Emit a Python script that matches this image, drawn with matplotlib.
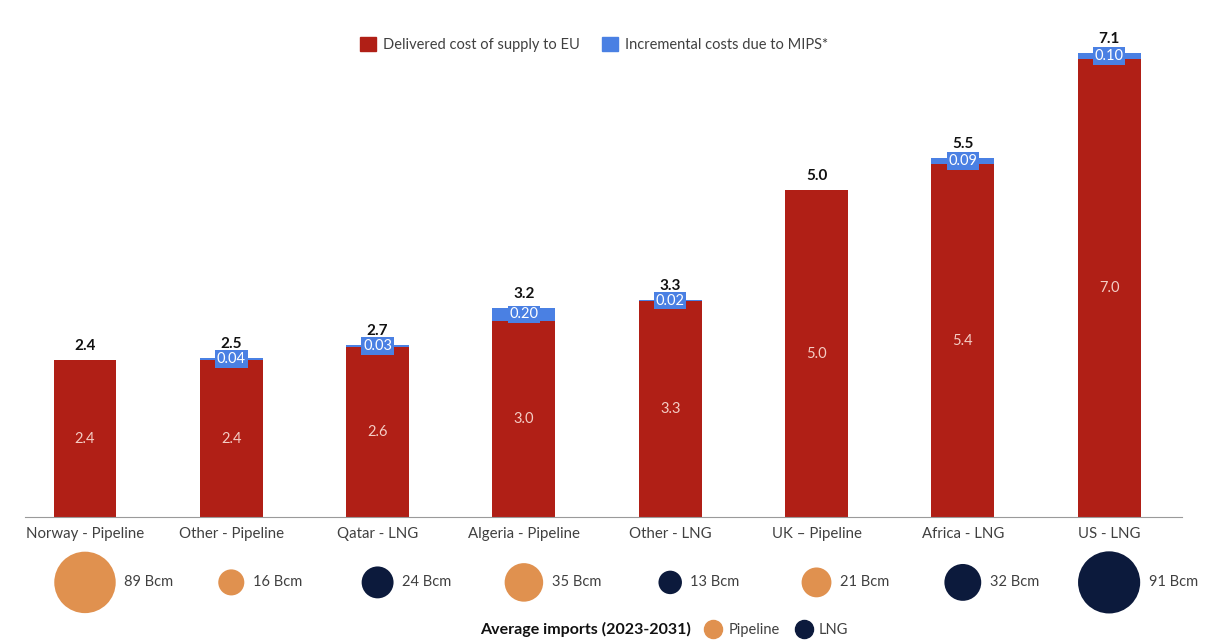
import numpy as np
import matplotlib
matplotlib.use("Agg")
import matplotlib.pyplot as plt
from matplotlib.patches import Patch
from matplotlib.lines import Line2D

plt.rcParams['font.family'] = ['Lato', 'DejaVu Sans']

# data
routes = ["Norway - Pipeline", "Other - Pipeline", "Qatar - LNG", "Algeria - Pipeline",
          "Other - LNG", "UK \u2013 Pipeline", "Africa - LNG", "US - LNG"]
delivered = [2.4, 2.4, 2.6, 3.0, 3.3, 5.0, 5.4, 7.0]
mips = [0.0, 0.04, 0.03, 0.20, 0.02, 0.0, 0.09, 0.10]
totals = [2.4, 2.5, 2.7, 3.2, 3.3, 5.0, 5.5, 7.1]
imports_bcm = [89, 16, 24, 35, 13, 21, 32, 91]
route_type = ["Pipeline", "Pipeline", "LNG", "Pipeline", "LNG", "Pipeline", "LNG", "LNG"]

red = "#b01f16"
blue = "#4a80e3"
orange = "#e0914f"
navy = "#0c1a3c"
type_col = {"Pipeline": orange, "LNG": navy}

fig = plt.figure(figsize=(12.08, 6.4), dpi=100)
ax = fig.add_axes([0.0207, 0.192, 0.958, 0.745])
x = np.arange(len(routes))
w = 0.43

ax.bar(x, delivered, w, color=red, zorder=2)
ax.bar(x, mips, w, bottom=delivered, color=blue, zorder=2)

for i in range(len(routes)):
    ax.text(x[i], delivered[i] / 2, f"{delivered[i]:.1f}", ha="center", va="center",
            color="#f4cdc5", fontsize=10.5)
    top = delivered[i] + mips[i]
    if mips[i] > 0:
        ax.text(x[i], delivered[i] + mips[i] / 2, f"{mips[i]:.2f}", ha="center", va="center",
                color="white", fontsize=10.5, zorder=3,
                bbox=dict(boxstyle="square,pad=0.12", fc=blue, ec="none"))
    ax.annotate(f"{totals[i]:.1f}", (x[i], top), xytext=(0, 5), textcoords="offset points",
                ha="center", va="bottom", fontsize=11, fontweight="bold", color="#111111", zorder=4)

ax.set_xlim(-0.41, 7.5)
ax.set_ylim(0, 7.29)
ax.set_yticks([])
ax.set_xticks(x)
ax.set_xticklabels(routes, fontsize=10.8, color="#404040")
ax.tick_params(axis="x", length=0, pad=7)
for s in ["top", "right", "left"]:
    ax.spines[s].set_visible(False)
ax.spines["bottom"].set_color("#9a9a9a")

fig.legend(handles=[Patch(color=red, label="Delivered cost of supply to EU"),
                    Patch(color=blue, label="Incremental costs due to MIPS*")],
           loc="center", bbox_to_anchor=(0.492, 0.93), ncol=2, frameon=False,
           fontsize=10.5, handlelength=1.1, handleheight=1.1, handletextpad=0.5,
           columnspacing=1.5, labelcolor="#404040")

# bubble row
bx = fig.add_axes([0.0207, 0.03, 0.958, 0.12])
bx.set_xlim(-0.41, 7.5)
bx.set_ylim(-1, 1)
bx.axis("off")
sizes = [v * 22 for v in imports_bcm]
bx.scatter(x, np.zeros(len(x)), s=sizes, c=[type_col[t] for t in route_type],
           edgecolors="none", clip_on=False)
for i in range(len(x)):
    r = np.sqrt(sizes[i]) / 2
    bx.annotate(f"{imports_bcm[i]} Bcm", (x[i], 0), xytext=(r + 6, 0),
                textcoords="offset points", ha="left", va="center",
                fontsize=10.5, color="#404040")

fig.text(0.572, 0.016, "Average imports (2023-2031)", ha="right", va="center",
         fontsize=11.5, fontweight="bold", color="#111111")
fig.legend(handles=[Line2D([], [], marker="o", ls="", ms=13, color=orange, label="Pipeline"),
                    Line2D([], [], marker="o", ls="", ms=13, color=navy, label="LNG")],
           loc="center left", bbox_to_anchor=(0.574, 0.016), ncol=2, frameon=False,
           fontsize=10.5, handletextpad=0.4, columnspacing=1.0, handlelength=1.3,
           borderpad=0.2, labelcolor="#404040")

fig.savefig("out.png", dpi=100)
